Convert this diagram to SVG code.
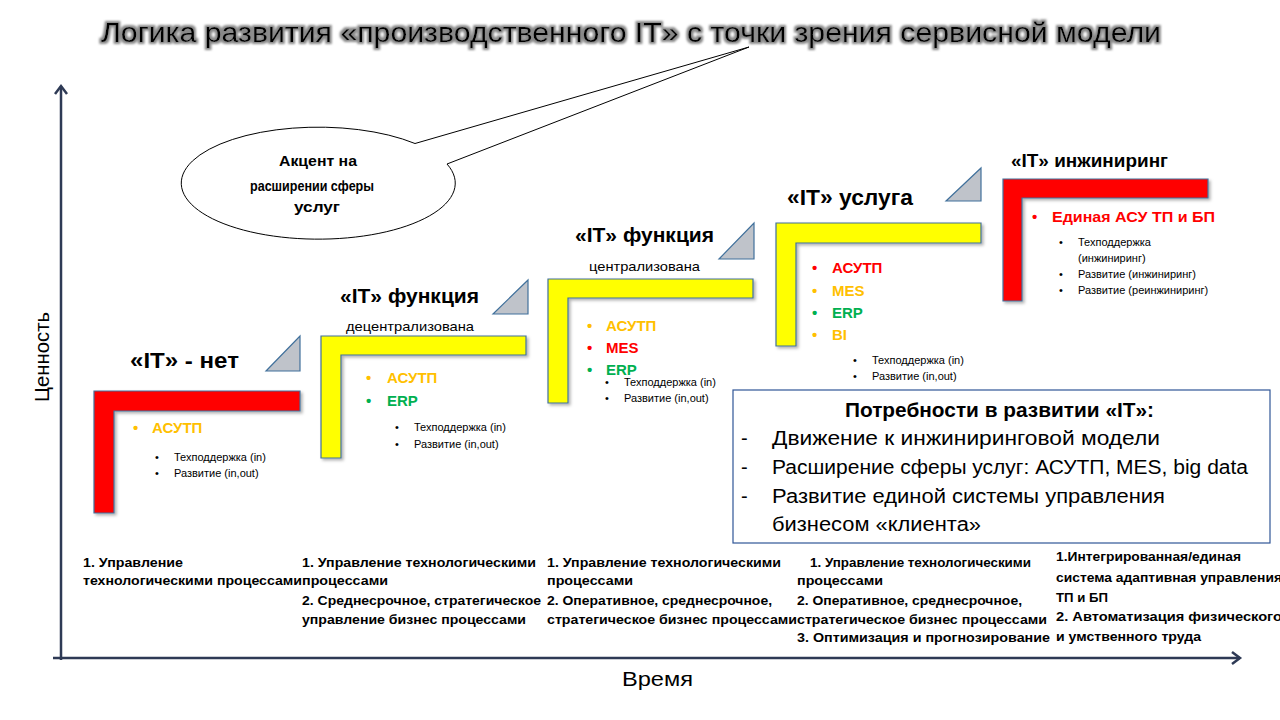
<svg xmlns="http://www.w3.org/2000/svg" width="1280" height="720" viewBox="0 0 1280 720">
<defs>
  <marker id="arr" markerWidth="14" markerHeight="14" refX="10" refY="7" orient="auto" markerUnits="userSpaceOnUse">
    <path d="M2,1 L10,7 L2,13" fill="none" stroke="#2E3A55" stroke-width="2.5"/>
  </marker>
  <filter id="sh" x="-10%" y="-10%" width="130%" height="130%">
    <feDropShadow dx="2" dy="2" stdDeviation="1.5" flood-color="#000" flood-opacity="0.3"/>
  </filter>
  <filter id="glow" x="-5%" y="-50%" width="110%" height="200%">
    <feMorphology in="SourceAlpha" operator="dilate" radius="1.5" result="d"/>
    <feGaussianBlur in="d" stdDeviation="1.2" result="b"/>
    <feFlood flood-color="#888"/>
    <feComposite in2="b" operator="in" result="g"/>
    <feMerge><feMergeNode in="g"/><feMergeNode in="SourceGraphic"/></feMerge>
  </filter>
</defs>
<style>
  text { font-family: "Liberation Sans", Arial, sans-serif; }
  .title { font-size: 28px; fill: #000; }
  .lshape { stroke: #41719C; stroke-width: 1.2; filter: url(#sh); }
  .red { fill: #FF0000; }
  .yel { fill: #FFFF00; }
  .tri { fill: #BFC3CA; stroke: #41719C; stroke-width: 1.2; }
  .head { font-weight: bold; fill: #000; }
  .sub { font-size: 13px; fill: #000; }
  .big { font-size: 15px; font-weight: bold; }
  .o { fill: #FFC000; }
  .r { fill: #FF0000; }
  .g { fill: #00B050; }
  .sm { font-size: 11px; fill: #000; }
  .bot { font-size: 12.5px; font-weight: bold; fill: #000; }
  .box { font-size: 20px; fill: #000; }
  .axis { stroke: #2E3A55; stroke-width: 2.5; fill: none; }
  .lbl { font-size: 21px; fill: #000; }
</style>
<rect width="1280" height="720" fill="#fff"/>

<g id="title">
  <text class="title" x="101" y="42" textLength="1060" lengthAdjust="spacingAndGlyphs" filter="url(#glow)">Логика развития «производственного IT» с точки зрения сервисной модели</text>
</g>

<g id="connectors">
  <line class="axis" x1="61" y1="660" x2="61" y2="86" marker-end="url(#arr)"/>
  <line class="axis" x1="53" y1="658" x2="1240" y2="658" marker-end="url(#arr)"/>
</g>

<g id="axis-labels">
  <text class="lbl" transform="translate(49,357) rotate(-90)" text-anchor="middle" textLength="90" lengthAdjust="spacingAndGlyphs">Ценность</text>
  <text class="lbl" x="622" y="686" textLength="71" lengthAdjust="spacingAndGlyphs">Время</text>
</g>

<g id="callout">
  <path d="M415,143.5 A137 56 0 1 0 447,164 L749,47 Z" fill="#fff" stroke="#000" stroke-width="1"/>
  <g font-size="14" font-weight="bold" text-anchor="middle" fill="#000">
    <text x="318" y="166" textLength="78" lengthAdjust="spacingAndGlyphs">Акцент на</text>
    <text x="312" y="191" textLength="124" lengthAdjust="spacingAndGlyphs">расширении сферы</text>
    <text x="317" y="212" textLength="46" lengthAdjust="spacingAndGlyphs">услуг</text>
  </g>
</g>

<g id="step1">
  <polygon class="lshape red" points="94,391 300,391 300,411 114,411 114,513 94,513"/>
  <polygon class="tri" points="266,371 300,336 300,371"/>
  <text class="head" x="130" y="368" font-size="22" textLength="109" lengthAdjust="spacingAndGlyphs">«IT» - нет</text>
  <text class="big o" x="133" y="433">•</text>
  <text class="big o" x="152" y="433">АСУТП</text>
  <text class="sm" x="155" y="461">•</text>
  <text class="sm" x="174" y="461">Техподдержка  (in)</text>
  <text class="sm" x="155" y="477">•</text>
  <text class="sm" x="174" y="477">Развитие (in,out)</text>
</g>

<g id="step2">
  <polygon class="lshape yel" points="321,336 526,336 526,355 341,355 341,458 321,458"/>
  <polygon class="tri" points="493,314 528,280 528,314"/>
  <text class="head" x="340" y="303" font-size="20" textLength="139" lengthAdjust="spacingAndGlyphs">«IT» функция</text>
  <text class="sub" x="346" y="331" textLength="128" lengthAdjust="spacingAndGlyphs">децентрализована</text>
  <text class="big o" x="366" y="383">•</text>
  <text class="big o" x="387" y="383">АСУТП</text>
  <text class="big g" x="366" y="406">•</text>
  <text class="big g" x="387" y="406">ERP</text>
  <text class="sm" x="395" y="431">•</text>
  <text class="sm" x="414" y="431">Техподдержка  (in)</text>
  <text class="sm" x="395" y="448">•</text>
  <text class="sm" x="414" y="448">Развитие (in,out)</text>
</g>

<g id="step3">
  <polygon class="lshape yel" points="548,279 753,279 753,298 568,298 568,403 548,403"/>
  <polygon class="tri" points="719,259 754,223 754,259"/>
  <text class="head" x="575" y="242" font-size="20" textLength="139" lengthAdjust="spacingAndGlyphs">«IT» функция</text>
  <text class="sub" x="589" y="271" textLength="111" lengthAdjust="spacingAndGlyphs">централизована</text>
  <text class="big o" x="587" y="331">•</text>
  <text class="big o" x="606" y="331">АСУТП</text>
  <text class="big r" x="587" y="353">•</text>
  <text class="big r" x="606" y="353">MES</text>
  <text class="big g" x="587" y="375">•</text>
  <text class="big g" x="606" y="375">ERP</text>
  <text class="sm" x="605" y="386">•</text>
  <text class="sm" x="624" y="386">Техподдержка  (in)</text>
  <text class="sm" x="605" y="402">•</text>
  <text class="sm" x="624" y="402">Развитие (in,out)</text>
</g>

<g id="step4">
  <polygon class="lshape yel" points="776,223 981,223 981,243 796,243 796,346 776,346"/>
  <polygon class="tri" points="946,201 981,168 981,201"/>
  <text class="head" x="787" y="205" font-size="22" textLength="126" lengthAdjust="spacingAndGlyphs">«IT» услуга</text>
  <text class="big r" x="812" y="273">•</text>
  <text class="big r" x="832" y="273">АСУТП</text>
  <text class="big o" x="812" y="296">•</text>
  <text class="big o" x="832" y="296">MES</text>
  <text class="big g" x="812" y="318">•</text>
  <text class="big g" x="832" y="318">ERP</text>
  <text class="big o" x="812" y="340">•</text>
  <text class="big o" x="832" y="340">BI</text>
  <text class="sm" x="853" y="364">•</text>
  <text class="sm" x="872" y="364">Техподдержка  (in)</text>
  <text class="sm" x="853" y="380">•</text>
  <text class="sm" x="872" y="380">Развитие (in,out)</text>
</g>

<g id="step5">
  <polygon class="lshape red" points="1003,179 1208,179 1208,198 1022,198 1022,301 1003,301"/>
  <text class="head" x="1011" y="167" font-size="18" textLength="157" lengthAdjust="spacingAndGlyphs">«IT» инжиниринг</text>
  <text class="big r" x="1032" y="222">•</text>
  <text class="big r" x="1052" y="222" textLength="163" lengthAdjust="spacingAndGlyphs">Единая  АСУ ТП и БП</text>
  <text class="sm" x="1059" y="246">•</text>
  <text class="sm" x="1078" y="246">Техподдержка</text>
  <text class="sm" x="1078" y="262">(инжиниринг)</text>
  <text class="sm" x="1059" y="278">•</text>
  <text class="sm" x="1078" y="278">Развитие (инжиниринг)</text>
  <text class="sm" x="1059" y="294">•</text>
  <text class="sm" x="1078" y="294">Развитие (реинжиниринг)</text>
</g>

<g id="needs">
  <rect x="733" y="390" width="537" height="153" fill="#fff" stroke="#2F5597" stroke-width="1.2"/>
  <text class="box" x="845" y="417" font-weight="bold" textLength="309" lengthAdjust="spacingAndGlyphs">Потребности в развитии «IT»:</text>
  <text class="box" x="741" y="445">-</text>
  <text class="box" x="772" y="445" textLength="388" lengthAdjust="spacingAndGlyphs">Движение к инжиниринговой модели</text>
  <text class="box" x="741" y="474">-</text>
  <text class="box" x="772" y="474" textLength="476" lengthAdjust="spacingAndGlyphs">Расширение сферы услуг: АСУТП, MES, big data</text>
  <text class="box" x="741" y="503">-</text>
  <text class="box" x="772" y="503" textLength="393" lengthAdjust="spacingAndGlyphs">Развитие единой системы управления</text>
  <text class="box" x="772" y="531" textLength="209" lengthAdjust="spacingAndGlyphs">бизнесом «клиента»</text>
</g>

<g id="bottom-col1">
  <text class="bot" x="83" y="567" textLength="100" lengthAdjust="spacingAndGlyphs">1. Управление</text>
  <text class="bot" x="83" y="585" textLength="219" lengthAdjust="spacingAndGlyphs">технологическими процессами</text>
</g>
<g id="bottom-col2">
  <text class="bot" x="302" y="567" textLength="234" lengthAdjust="spacingAndGlyphs">1. Управление технологическими</text>
  <text class="bot" x="302" y="585" textLength="86" lengthAdjust="spacingAndGlyphs">процессами</text>
  <text class="bot" x="302" y="605" textLength="239" lengthAdjust="spacingAndGlyphs">2. Среднесрочное, стратегическое</text>
  <text class="bot" x="302" y="624" textLength="224" lengthAdjust="spacingAndGlyphs">управление бизнес процессами</text>
</g>
<g id="bottom-col3">
  <text class="bot" x="547" y="567" textLength="234" lengthAdjust="spacingAndGlyphs">1. Управление технологическими</text>
  <text class="bot" x="547" y="585" textLength="86" lengthAdjust="spacingAndGlyphs">процессами</text>
  <text class="bot" x="547" y="605" textLength="225" lengthAdjust="spacingAndGlyphs">2. Оперативное, среднесрочное,</text>
  <text class="bot" x="547" y="624" textLength="250" lengthAdjust="spacingAndGlyphs">стратегическое  бизнес процессами</text>
</g>
<g id="bottom-col4">
  <text class="bot" x="810" y="567" textLength="221" lengthAdjust="spacingAndGlyphs">1. Управление технологическими</text>
  <text class="bot" x="797" y="585" textLength="86" lengthAdjust="spacingAndGlyphs">процессами</text>
  <text class="bot" x="797" y="605" textLength="225" lengthAdjust="spacingAndGlyphs">2. Оперативное, среднесрочное,</text>
  <text class="bot" x="797" y="624" textLength="250" lengthAdjust="spacingAndGlyphs">стратегическое  бизнес процессами</text>
  <text class="bot" x="797" y="642" textLength="253" lengthAdjust="spacingAndGlyphs">3. Оптимизация и прогнозирование</text>
</g>
<g id="bottom-col5">
  <text class="bot" x="1056" y="561" textLength="185" lengthAdjust="spacingAndGlyphs">1.Интегрированная/единая</text>
  <text class="bot" x="1056" y="582" textLength="226" lengthAdjust="spacingAndGlyphs">система адаптивная управления</text>
  <text class="bot" x="1056" y="602" textLength="52" lengthAdjust="spacingAndGlyphs">ТП и БП</text>
  <text class="bot" x="1056" y="621" textLength="226" lengthAdjust="spacingAndGlyphs">2.   Автоматизация физического</text>
  <text class="bot" x="1056" y="641" textLength="145" lengthAdjust="spacingAndGlyphs">и умственного труда</text>
</g>
</svg>
